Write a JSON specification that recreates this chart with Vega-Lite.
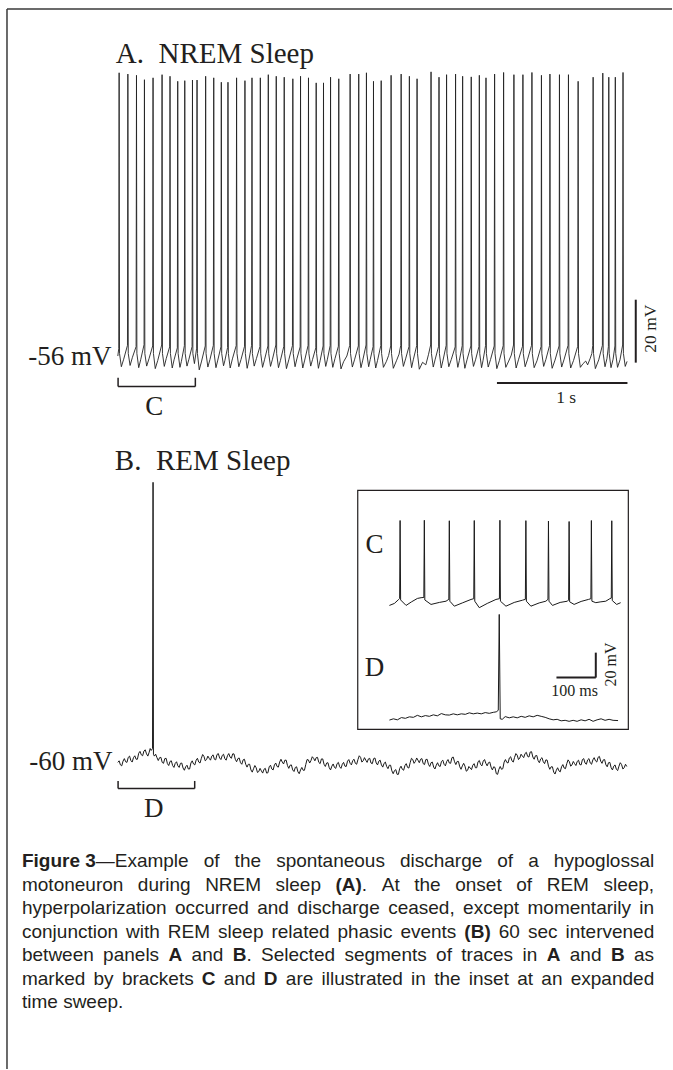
{
"$schema": "https://vega.github.io/schema/vega-lite/v6.json",
"width": 673, "height": 1070,
"autosize": {"type": "fit", "contains": "padding"},
"padding": 0,
"background": "white",
"config": {"view": {"stroke": null}},
"resolve": {"scale": {"x": "independent", "y": "independent"}},
"datasets": {
"A": [{"t":0,"v":-55.8},{"t":7,"v":-53.5},{"t":10,"v":34.2},{"t":13,"v":-55},{"t":27,"v":-59.2},{"t":45,"v":-56.8},
{"t":74,"v":-52.4},{"t":77,"v":33.8},{"t":80,"v":-55},{"t":94,"v":-58.8},{"t":112,"v":-56.2},
{"t":140,"v":-52.8},{"t":143,"v":33.4},{"t":146,"v":-55},{"t":160,"v":-59.5},{"t":175,"v":-57},
{"t":201,"v":-52.2},{"t":204,"v":32.0},{"t":207,"v":-55},{"t":221,"v":-59},{"t":240,"v":-56.5},
{"t":267,"v":-52.6},{"t":270,"v":32.6},{"t":273,"v":-55},{"t":287,"v":-59.8},{"t":306,"v":-57.2},
{"t":336,"v":-52.3},{"t":339,"v":33.6},{"t":342,"v":-55},{"t":356,"v":-59.1},{"t":371,"v":-56.6},
{"t":397,"v":-52.9},{"t":400,"v":33.1},{"t":403,"v":-55},{"t":417,"v":-59.6},{"t":431,"v":-57},
{"t":456,"v":-53.2},{"t":459,"v":31.5},{"t":462,"v":-55},{"t":476,"v":-59.4},{"t":487,"v":-57.5},
{"t":510,"v":-52.5},{"t":513,"v":31.7},{"t":516,"v":-55},{"t":530,"v":-59},{"t":545,"v":-56.8},
{"t":569,"v":-52.8},{"t":572,"v":31.9},{"t":575,"v":-55},{"t":587,"v":-58.2},
{"t":604,"v":-53.3},{"t":607,"v":31.9},{"t":610,"v":-55},{"t":624,"v":-60.2},{"t":642,"v":-57.4},
{"t":670,"v":-52.6},{"t":673,"v":33.1},{"t":676,"v":-55},{"t":690,"v":-59.3},{"t":706,"v":-56.9},
{"t":732,"v":-52.4},{"t":735,"v":32.6},{"t":738,"v":-55},{"t":752,"v":-59.5},{"t":766,"v":-57.1},
{"t":790,"v":-52.9},{"t":793,"v":31.2},{"t":796,"v":-55},{"t":810,"v":-58.9},{"t":820,"v":-57.3},
{"t":841,"v":-53.1},{"t":844,"v":31.2},{"t":847,"v":-55},{"t":861,"v":-59.6},{"t":878,"v":-56.7},
{"t":907,"v":-52.5},{"t":910,"v":32.6},{"t":913,"v":-55},{"t":927,"v":-59.2},{"t":944,"v":-56.9},
{"t":971,"v":-52.7},{"t":974,"v":31.7},{"t":977,"v":-55},{"t":991,"v":-59.7},{"t":1003,"v":-57.4},
{"t":1025,"v":-52.4},{"t":1028,"v":32.6},{"t":1031,"v":-55},{"t":1045,"v":-59},{"t":1062,"v":-56.6},
{"t":1089,"v":-52.8},{"t":1092,"v":32.6},{"t":1095,"v":-55},{"t":1109,"v":-59.4},{"t":1124,"v":-57},
{"t":1150,"v":-52.6},{"t":1153,"v":33.6},{"t":1156,"v":-55},{"t":1170,"v":-59.1},{"t":1185,"v":-56.8},
{"t":1211,"v":-52.3},{"t":1214,"v":33.1},{"t":1217,"v":-55},{"t":1231,"v":-59.5},{"t":1246,"v":-57.2},
{"t":1272,"v":-52.7},{"t":1275,"v":32.8},{"t":1278,"v":-55},{"t":1292,"v":-59.8},{"t":1310,"v":-57},
{"t":1338,"v":-52.5},{"t":1341,"v":32.3},{"t":1344,"v":-55},{"t":1358,"v":-59.2},{"t":1372,"v":-56.7},
{"t":1397,"v":-52.9},{"t":1400,"v":33.1},{"t":1403,"v":-55},{"t":1417,"v":-59.6},{"t":1432,"v":-57.1},
{"t":1458,"v":-52.4},{"t":1461,"v":32.6},{"t":1464,"v":-55},{"t":1478,"v":-59},{"t":1492,"v":-56.9},
{"t":1517,"v":-53.2},{"t":1520,"v":31.0},{"t":1523,"v":-55},{"t":1537,"v":-59.7},{"t":1550,"v":-57.3},
{"t":1573,"v":-52.6},{"t":1576,"v":31.0},{"t":1579,"v":-55},{"t":1593,"v":-59.1},{"t":1605,"v":-57},
{"t":1627,"v":-52.5},{"t":1630,"v":32.8},{"t":1633,"v":-55},{"t":1647,"v":-59.4},{"t":1664,"v":-56.6},
{"t":1690,"v":-52.7},{"t":1693,"v":32.3},{"t":1696,"v":-55},{"t":1710,"v":-59.9},{"t":1730,"v":-57.6},{"t":1755,"v":-55.8},
{"t":1777,"v":-52.4},{"t":1780,"v":33.8},{"t":1783,"v":-55},{"t":1797,"v":-59.3},{"t":1815,"v":-56.8},
{"t":1843,"v":-52.6},{"t":1846,"v":33.8},{"t":1849,"v":-55},{"t":1863,"v":-59.5},{"t":1877,"v":-57.1},
{"t":1902,"v":-52.3},{"t":1905,"v":34.2},{"t":1908,"v":-55},{"t":1922,"v":-59.2},{"t":1934,"v":-56.9},
{"t":1956,"v":-52.8},{"t":1959,"v":31.5},{"t":1962,"v":-55},{"t":1976,"v":-59.6},{"t":1990,"v":-57.2},
{"t":2015,"v":-52.5},{"t":2018,"v":31.7},{"t":2021,"v":-55},{"t":2035,"v":-59.4},{"t":2058,"v":-57.5},{"t":2075,"v":-55.6},
{"t":2091,"v":-52.6},{"t":2094,"v":33.4},{"t":2097,"v":-55},{"t":2111,"v":-59.7},{"t":2135,"v":-57.3},{"t":2155,"v":-55.2},
{"t":2168,"v":-52.4},{"t":2171,"v":33.8},{"t":2174,"v":-55},{"t":2188,"v":-59.1},{"t":2205,"v":-56.7},
{"t":2231,"v":-52.8},{"t":2234,"v":33.1},{"t":2237,"v":-55},{"t":2251,"v":-59.5},{"t":2264,"v":-57},
{"t":2290,"v":-52.5},{"t":2293,"v":32.3},{"t":2296,"v":-55},{"t":2310,"v":-60},{"t":2335,"v":-57.8},{"t":2360,"v":-58.6},{"t":2380,"v":-55.4},
{"t":2397,"v":-52.3},{"t":2400,"v":34.5},{"t":2403,"v":-55},{"t":2417,"v":-59.3},{"t":2432,"v":-56.8},
{"t":2458,"v":-52.7},{"t":2461,"v":32.8},{"t":2464,"v":-55},{"t":2478,"v":-59.6},{"t":2492,"v":-57.1},
{"t":2516,"v":-52.4},{"t":2519,"v":33.6},{"t":2522,"v":-55},{"t":2536,"v":-59.2},{"t":2555,"v":-56.9},
{"t":2585,"v":-52.9},{"t":2588,"v":33.8},{"t":2591,"v":-55},{"t":2605,"v":-59.4},{"t":2617,"v":-57.2},
{"t":2639,"v":-52.5},{"t":2642,"v":33.1},{"t":2645,"v":-55},{"t":2659,"v":-59.7},{"t":2677,"v":-56.8},
{"t":2705,"v":-52.6},{"t":2708,"v":32.9},{"t":2711,"v":-55},{"t":2725,"v":-59.1},{"t":2741,"v":-57},
{"t":2767,"v":-52.8},{"t":2770,"v":33.4},{"t":2773,"v":-55},{"t":2787,"v":-59.5},{"t":2798,"v":-57.3},
{"t":2818,"v":-52.4},{"t":2821,"v":32.6},{"t":2824,"v":-55},{"t":2838,"v":-59.3},{"t":2856,"v":-56.9},
{"t":2884,"v":-52.6},{"t":2887,"v":33.8},{"t":2890,"v":-55},{"t":2904,"v":-59.8},{"t":2924,"v":-57.2},
{"t":2953,"v":-52.5},{"t":2956,"v":34.3},{"t":2959,"v":-55},{"t":2973,"v":-59.4},{"t":2995,"v":-57.4},{"t":3015,"v":-55.5},
{"t":3032,"v":-52.3},{"t":3035,"v":33.6},{"t":3038,"v":-55},{"t":3052,"v":-59.6},{"t":3070,"v":-57},
{"t":3101,"v":-52.7},{"t":3104,"v":33.6},{"t":3107,"v":-55},{"t":3121,"v":-59.2},{"t":3140,"v":-56.8},
{"t":3170,"v":-52.4},{"t":3173,"v":34.3},{"t":3176,"v":-55},{"t":3190,"v":-59.5},{"t":3212,"v":-57.3},
{"t":3243,"v":-52.8},{"t":3246,"v":33.4},{"t":3249,"v":-55},{"t":3263,"v":-59.1},{"t":3280,"v":-56.9},
{"t":3308,"v":-52.5},{"t":3311,"v":33.8},{"t":3314,"v":-55},{"t":3328,"v":-59.7},{"t":3350,"v":-57.1},
{"t":3381,"v":-52.6},{"t":3384,"v":33.6},{"t":3387,"v":-55},{"t":3401,"v":-59.3},{"t":3420,"v":-56.8},
{"t":3450,"v":-52.4},{"t":3453,"v":33.6},{"t":3456,"v":-55},{"t":3470,"v":-59.6},{"t":3492,"v":-57.2},
{"t":3524,"v":-52.7},{"t":3527,"v":31.5},{"t":3530,"v":-55},{"t":3544,"v":-59.4},{"t":3565,"v":-58.2},{"t":3585,"v":-57.4},{"t":3600,"v":-58.6},{"t":3620,"v":-56.5},{"t":3632,"v":-55},
{"t":3639,"v":-52.5},{"t":3642,"v":32.8},{"t":3645,"v":-55},{"t":3659,"v":-59.8},{"t":3685,"v":-57},
{"t":3713,"v":-52.4},{"t":3716,"v":34.1},{"t":3719,"v":-55},{"t":3733,"v":-59.2},{"t":3748,"v":-56.6},
{"t":3759,"v":-52.8},{"t":3762,"v":32.8},{"t":3765,"v":-55},{"t":3779,"v":-59.5},{"t":3795,"v":-56.8},
{"t":3809,"v":-52.6},{"t":3812,"v":32.8},{"t":3815,"v":-55},{"t":3829,"v":-59.4},{"t":3848,"v":-57},
{"t":3868,"v":-52.3},{"t":3871,"v":34.3},{"t":3874,"v":-55},{"t":3888,"v":-59.1},{"t":3902,"v":-57.5}],
"B": [{"t":0,"v":-59.4},{"t":20,"v":-60.2},{"t":40,"v":-59.0},{"t":60,"v":-59.2},{"t":80,"v":-57.8},{"t":100,"v":-58.8},{"t":120,"v":-57.9},{"t":140,"v":-58.4},{"t":160,"v":-56.5},{"t":180,"v":-57.0},{"t":200,"v":-55.8},{"t":220,"v":-56.7},{"t":240,"v":-56.2},{"t":256,"v":-55.6},{"t":266,"v":-55.0},{"t":270,"v":29.6},{"t":273,"v":-56.8},
{"t":280,"v":-57.4},{"t":300,"v":-57.9},{"t":320,"v":-57.9},{"t":340,"v":-59.4},{"t":360,"v":-58.2},{"t":380,"v":-59.8},{"t":400,"v":-59.1},{"t":420,"v":-60.4},{"t":440,"v":-59.7},{"t":460,"v":-60.5},{"t":480,"v":-59.7},{"t":500,"v":-61.2},{"t":520,"v":-60.8},{"t":540,"v":-61.5},{"t":560,"v":-59.6},{"t":580,"v":-59.9},{"t":600,"v":-58.7},{"t":620,"v":-59.3},{"t":640,"v":-58.1},{"t":660,"v":-57.5},{"t":680,"v":-58.5},{"t":700,"v":-58.1},{"t":720,"v":-57.4},{"t":740,"v":-58.4},{"t":760,"v":-56.9},{"t":780,"v":-58.0},{"t":800,"v":-57.2},{"t":820,"v":-58.2},{"t":840,"v":-57.3},{"t":860,"v":-57.7},{"t":880,"v":-56.7},{"t":900,"v":-58.4},{"t":920,"v":-58.2},{"t":940,"v":-59.5},{"t":960,"v":-58.6},{"t":980,"v":-60.0},{"t":1000,"v":-60.0},{"t":1020,"v":-61.8},{"t":1040,"v":-61.4},{"t":1060,"v":-61.1},{"t":1080,"v":-62.3},{"t":1100,"v":-62.1},{"t":1120,"v":-61.6},{"t":1140,"v":-62.8},{"t":1160,"v":-60.8},{"t":1180,"v":-61.5},{"t":1200,"v":-60.2},{"t":1220,"v":-60.7},{"t":1240,"v":-59.3},{"t":1260,"v":-59.3},{"t":1280,"v":-58.7},{"t":1300,"v":-60.4},{"t":1320,"v":-60.3},{"t":1340,"v":-61.8},{"t":1360,"v":-61.0},{"t":1380,"v":-62.4},{"t":1400,"v":-61.8},{"t":1420,"v":-61.9},{"t":1440,"v":-60.1},{"t":1460,"v":-58.6},{"t":1480,"v":-58.8},{"t":1500,"v":-58.1},{"t":1520,"v":-57.9},{"t":1540,"v":-59.4},{"t":1560,"v":-58.3},{"t":1580,"v":-60.0},{"t":1600,"v":-59.6},{"t":1620,"v":-61.1},{"t":1640,"v":-60.6},{"t":1660,"v":-61.0},{"t":1680,"v":-59.8},{"t":1700,"v":-60.8},{"t":1720,"v":-60.0},{"t":1740,"v":-60.6},{"t":1760,"v":-59.0},{"t":1780,"v":-59.7},{"t":1800,"v":-58.8},{"t":1820,"v":-59.7},{"t":1840,"v":-58.5},{"t":1860,"v":-57.8},{"t":1880,"v":-58.9},{"t":1900,"v":-58.7},{"t":1920,"v":-58.3},{"t":1940,"v":-59.6},{"t":1960,"v":-58.2},{"t":1980,"v":-59.6},{"t":2000,"v":-59.0},{"t":2020,"v":-60.2},{"t":2040,"v":-59.7},{"t":2060,"v":-60.7},{"t":2080,"v":-60.3},{"t":2100,"v":-62.1},{"t":2120,"v":-62.0},{"t":2140,"v":-63.2},{"t":2160,"v":-61.3},{"t":2180,"v":-61.6},{"t":2200,"v":-60.4},{"t":2220,"v":-61.0},{"t":2240,"v":-59.5},{"t":2260,"v":-58.5},{"t":2280,"v":-59.1},{"t":2300,"v":-58.7},{"t":2320,"v":-58.4},{"t":2340,"v":-59.8},{"t":2360,"v":-58.5},{"t":2380,"v":-60.0},{"t":2400,"v":-59.5},{"t":2420,"v":-60.9},{"t":2440,"v":-60.3},{"t":2460,"v":-60.5},{"t":2480,"v":-59.1},{"t":2500,"v":-60.0},{"t":2520,"v":-59.1},{"t":2540,"v":-59.6},{"t":2560,"v":-57.9},{"t":2580,"v":-59.2},{"t":2600,"v":-59.1},{"t":2620,"v":-60.8},{"t":2640,"v":-60.5},{"t":2660,"v":-60.6},{"t":2680,"v":-61.9},{"t":2700,"v":-61.2},{"t":2720,"v":-60.3},{"t":2740,"v":-61.1},{"t":2760,"v":-59.2},{"t":2780,"v":-60.1},{"t":2800,"v":-59.0},{"t":2820,"v":-59.7},{"t":2840,"v":-59.5},{"t":2860,"v":-60.9},{"t":2880,"v":-60.8},{"t":2900,"v":-63.0},{"t":2920,"v":-61.6},{"t":2940,"v":-61.6},{"t":2960,"v":-59.3},{"t":2980,"v":-59.4},{"t":3000,"v":-58.0},{"t":3020,"v":-58.9},{"t":3040,"v":-57.8},{"t":3060,"v":-57.1},{"t":3080,"v":-58.0},{"t":3100,"v":-57.4},{"t":3120,"v":-56.6},{"t":3140,"v":-57.5},{"t":3160,"v":-56.1},{"t":3180,"v":-57.7},{"t":3200,"v":-57.3},{"t":3220,"v":-58.8},{"t":3240,"v":-58.3},{"t":3260,"v":-59.2},{"t":3280,"v":-58.6},{"t":3300,"v":-60.6},{"t":3320,"v":-60.8},{"t":3340,"v":-62.5},{"t":3360,"v":-61.9},{"t":3380,"v":-62.1},{"t":3400,"v":-60.8},{"t":3420,"v":-61.2},{"t":3440,"v":-59.8},{"t":3460,"v":-59.2},{"t":3480,"v":-60.2},{"t":3500,"v":-59.8},{"t":3520,"v":-59.1},{"t":3540,"v":-60.1},{"t":3560,"v":-58.5},{"t":3580,"v":-59.6},{"t":3600,"v":-58.6},{"t":3620,"v":-59.6},{"t":3640,"v":-58.6},{"t":3660,"v":-58.9},{"t":3680,"v":-57.8},{"t":3700,"v":-59.0},{"t":3720,"v":-58.6},{"t":3740,"v":-60.2},{"t":3760,"v":-59.5},{"t":3780,"v":-61.1},{"t":3800,"v":-60.6},{"t":3820,"v":-61.6},{"t":3840,"v":-60.6},{"t":3860,"v":-60.1},{"t":3880,"v":-61.1},{"t":3900,"v":-60.7},
{"t":10,"v":-58.9},{"t":30,"v":-60.5},{"t":50,"v":-58.2},{"t":70,"v":-59.4},{"t":90,"v":-57.4},{"t":110,"v":-59.3},{"t":130,"v":-57.3},{"t":150,"v":-58.4},{"t":170,"v":-55.9},{"t":190,"v":-57.3},{"t":210,"v":-55.4},{"t":230,"v":-57.4},{"t":248,"v":-55.0},
{"t":290,"v":-56.8},{"t":310,"v":-58.8},{"t":330,"v":-57.8},{"t":350,"v":-59.7},{"t":370,"v":-58.1},{"t":390,"v":-60.4},{"t":410,"v":-58.9},{"t":430,"v":-61.0},{"t":450,"v":-59.2},{"t":470,"v":-61.0},{"t":490,"v":-59.6},{"t":510,"v":-61.9},{"t":530,"v":-60.3},{"t":550,"v":-61.5},{"t":570,"v":-58.9},{"t":590,"v":-60.2},{"t":610,"v":-58.1},{"t":630,"v":-59.6},{"t":650,"v":-56.9},{"t":670,"v":-58.9},{"t":690,"v":-57.4},{"t":710,"v":-58.7},{"t":730,"v":-57.0},{"t":750,"v":-58.6},{"t":770,"v":-56.6},{"t":790,"v":-58.5},{"t":810,"v":-56.8},{"t":830,"v":-58.7},{"t":850,"v":-56.6},{"t":870,"v":-58.1},{"t":890,"v":-56.7},{"t":910,"v":-59.2},{"t":930,"v":-58.0},{"t":950,"v":-60.0},{"t":970,"v":-58.4},{"t":990,"v":-60.9},
{"t":1010,"v":-60.0},{"t":1030,"v":-62.5},{"t":1050,"v":-60.4},{"t":1070,"v":-62.6},{"t":1090,"v":-61.3},{"t":1110,"v":-62.8},{"t":1130,"v":-61.3},{"t":1150,"v":-62.7},{"t":1170,"v":-60.3},{"t":1190,"v":-61.8},{"t":1210,"v":-59.6},{"t":1230,"v":-60.9},{"t":1250,"v":-58.4},{"t":1270,"v":-59.9},{"t":1290,"v":-58.7},{"t":1310,"v":-61.3},{"t":1330,"v":-60.2},{"t":1350,"v":-62.3},{"t":1370,"v":-60.8},{"t":1390,"v":-63.0},{"t":1410,"v":-61.0},{"t":1430,"v":-61.9},{"t":1450,"v":-58.5},{"t":1470,"v":-59.6},{"t":1490,"v":-57.6},{"t":1510,"v":-58.9},{"t":1530,"v":-57.8},{"t":1550,"v":-59.8},{"t":1570,"v":-58.3},{"t":1590,"v":-60.7},{"t":1610,"v":-59.5},{"t":1630,"v":-61.8},{"t":1650,"v":-59.9},{"t":1670,"v":-61.3},{"t":1690,"v":-59.4},{"t":1710,"v":-61.3},{"t":1730,"v":-59.4},{"t":1750,"v":-60.7},{"t":1770,"v":-58.5},{"t":1790,"v":-60.2},{"t":1810,"v":-58.4},{"t":1830,"v":-60.0},{"t":1850,"v":-57.3},{"t":1870,"v":-59.3},{"t":1890,"v":-57.9},{"t":1910,"v":-59.4},{"t":1930,"v":-58.1},{"t":1950,"v":-59.8},{"t":1970,"v":-58.0},{"t":1990,"v":-60.2},
{"t":2010,"v":-58.7},{"t":2030,"v":-60.9},{"t":2050,"v":-59.3},{"t":2070,"v":-61.4},{"t":2090,"v":-60.3},{"t":2110,"v":-63.0},{"t":2130,"v":-61.7},{"t":2150,"v":-63.2},{"t":2170,"v":-60.6},{"t":2190,"v":-61.9},{"t":2210,"v":-59.8},{"t":2230,"v":-61.2},{"t":2250,"v":-58.1},{"t":2270,"v":-59.7},{"t":2290,"v":-58.0},{"t":2310,"v":-59.5},{"t":2330,"v":-58.2},{"t":2350,"v":-60.1},{"t":2370,"v":-58.4},{"t":2390,"v":-60.7},{"t":2410,"v":-59.3},{"t":2430,"v":-61.5},{"t":2450,"v":-59.5},{"t":2470,"v":-60.7},{"t":2490,"v":-58.7},{"t":2510,"v":-60.5},{"t":2530,"v":-58.5},{"t":2550,"v":-59.7},{"t":2570,"v":-57.7},{"t":2590,"v":-60.1},{"t":2610,"v":-59.1},{"t":2630,"v":-61.6},{"t":2650,"v":-59.7},{"t":2670,"v":-62.2},{"t":2690,"v":-60.7},{"t":2710,"v":-61.7},{"t":2730,"v":-59.8},{"t":2750,"v":-61.1},{"t":2770,"v":-58.8},{"t":2790,"v":-60.5},{"t":2810,"v":-58.5},{"t":2830,"v":-60.5},{"t":2850,"v":-59.3},{"t":2870,"v":-61.8},{"t":2890,"v":-61.0},{"t":2910,"v":-63.2},{"t":2930,"v":-60.7},{"t":2950,"v":-61.4},{"t":2970,"v":-58.5},{"t":2990,"v":-59.6},
{"t":3010,"v":-57.6},{"t":3030,"v":-59.3},{"t":3050,"v":-56.6},{"t":3070,"v":-58.5},{"t":3090,"v":-56.8},{"t":3110,"v":-57.9},{"t":3130,"v":-56.2},{"t":3150,"v":-57.7},{"t":3170,"v":-56.0},{"t":3190,"v":-58.4},{"t":3210,"v":-57.2},{"t":3230,"v":-59.5},{"t":3250,"v":-57.9},{"t":3270,"v":-59.8},{"t":3290,"v":-58.7},{"t":3310,"v":-61.6},{"t":3330,"v":-60.8},{"t":3350,"v":-63.1},{"t":3370,"v":-61.1},{"t":3390,"v":-62.4},{"t":3410,"v":-60.1},{"t":3430,"v":-61.4},{"t":3450,"v":-58.6},{"t":3470,"v":-60.6},{"t":3490,"v":-59.1},{"t":3510,"v":-60.4},{"t":3530,"v":-58.7},{"t":3550,"v":-60.2},{"t":3570,"v":-58.2},{"t":3590,"v":-60.0},{"t":3610,"v":-58.2},{"t":3630,"v":-60.0},{"t":3650,"v":-57.9},{"t":3670,"v":-59.3},{"t":3690,"v":-57.5},{"t":3710,"v":-59.7},{"t":3730,"v":-58.5},{"t":3750,"v":-60.8},{"t":3770,"v":-59.4},{"t":3790,"v":-61.8},{"t":3810,"v":-60.2},{"t":3830,"v":-62.0},{"t":3850,"v":-59.5},{"t":3870,"v":-61.5},{"t":3890,"v":-60.0}],
"C": [{"t":0,"v":-58.4},{"t":12.7,"v":-56.8},{"t":23.6,"v":-53.6},{"t":26,"v":-52.8},{"t":27.2,"v":9.6},{"t":28.5,"v":-54},{"t":42.4,"v":-58.4},{"t":55.8,"v":-55.6},{"t":71.1,"v":-52.8},{"t":80.5,"v":-52.2},{"t":87.5,"v":-52},{"t":88.8,"v":9.8},{"t":90,"v":-54},{"t":105.8,"v":-57.6},{"t":126.9,"v":-56},{"t":143.9,"v":-55},{"t":151,"v":-53.5},{"t":152.3,"v":9.4},{"t":153.6,"v":-55},{"t":165,"v":-59},{"t":185.3,"v":-56.4},{"t":207.4,"v":-53.6},{"t":214.4,"v":-53},{"t":215.7,"v":9.6},{"t":217,"v":-55},{"t":228.4,"v":-60.2},{"t":248.7,"v":-56.8},{"t":270.8,"v":-53.6},{"t":279.6,"v":-53},{"t":280.9,"v":9.8},{"t":282.2,"v":-55},{"t":296.2,"v":-59},{"t":317.3,"v":-56},{"t":338.3,"v":-54.2},{"t":345.6,"v":-53.5},{"t":346.9,"v":9.5},{"t":348.2,"v":-55},{"t":359.6,"v":-59},{"t":380.7,"v":-56.4},{"t":397.7,"v":-55},{"t":403,"v":-53.5},{"t":404.3,"v":9.2},{"t":405.6,"v":-55},{"t":414.5,"v":-58.4},{"t":434,"v":-56},{"t":452.5,"v":-55},{"t":455.5,"v":-54},{"t":456.8,"v":8.8},{"t":458.1,"v":-55.5},{"t":469.5,"v":-57.6},{"t":487.3,"v":-55.2},{"t":505.8,"v":-53.6},{"t":512.1,"v":-53},{"t":513.4,"v":9.6},{"t":514.7,"v":-55},{"t":524.6,"v":-56.2},{"t":535.5,"v":-55.6},{"t":550,"v":-55},{"t":560.2,"v":-53},{"t":564,"v":-52.5},{"t":565.2,"v":9.4},{"t":566.5,"v":-54.5},{"t":577.7,"v":-57.6},{"t":587.8,"v":-56.2}],
"D": [{"t":0,"v":-61.4},{"t":10.2,"v":-60.4},{"t":20.3,"v":-61.2},{"t":30.5,"v":-59.4},{"t":40.6,"v":-60},{"t":50.8,"v":-58.8},{"t":60.9,"v":-59.2},{"t":71.1,"v":-57.6},{"t":81.2,"v":-58.8},{"t":91.4,"v":-57.8},{"t":101.5,"v":-58.4},{"t":111.7,"v":-57.2},{"t":121.8,"v":-58},{"t":132,"v":-56.2},{"t":142.1,"v":-57.2},{"t":152.3,"v":-57.4},{"t":162.4,"v":-56.4},{"t":172.6,"v":-57.2},{"t":182.7,"v":-56.4},{"t":192.9,"v":-56.8},{"t":203,"v":-55.6},{"t":213.2,"v":-56.4},{"t":223.3,"v":-55.8},{"t":233.5,"v":-56.4},{"t":243.6,"v":-55.4},{"t":253.8,"v":-56},{"t":264,"v":-55.2},{"t":271.6,"v":-54.8},{"t":276.7,"v":-53.6},{"t":279.2,"v":23.2},{"t":281.7,"v":-60.4},{"t":286.8,"v":-60.8},{"t":294.4,"v":-58.6},{"t":304.6,"v":-59.6},{"t":314.7,"v":-58.8},{"t":324.9,"v":-59.6},{"t":335,"v":-58.4},{"t":345.2,"v":-59.2},{"t":355.3,"v":-58},{"t":365.5,"v":-58.8},{"t":375.6,"v":-57.6},{"t":385.8,"v":-58.4},{"t":395.9,"v":-59.2},{"t":406.1,"v":-60.4},{"t":416.2,"v":-61.2},{"t":426.4,"v":-60.8},{"t":436.5,"v":-62},{"t":446.7,"v":-61.6},{"t":456.8,"v":-62.4},{"t":467,"v":-61.6},{"t":477.1,"v":-62.4},{"t":487.3,"v":-61.2},{"t":497.4,"v":-62},{"t":507.6,"v":-60.8},{"t":517.8,"v":-62.4},{"t":527.9,"v":-61.2},{"t":538.1,"v":-60.4},{"t":548.2,"v":-61.6},{"t":558.4,"v":-60.8},{"t":568.5,"v":-61.6},{"t":581.2,"v":-61.8}],
"capR": [
{"c":11.67,"l":1,"s":"—Example"},{"c":28.75,"l":1,"s":"of"},{"c":33.64,"l":1,"s":"the"},{"c":40.21,"l":1,"s":"spontaneous"},{"c":59.79,"l":1,"s":"discharge"},{"c":75.19,"l":1,"s":"of"},{"c":80.09,"l":1,"s":"a"},{"c":84.15,"l":1,"s":"hypoglossal"},
{"c":0,"l":2,"s":"motoneuron"},{"c":18.33,"l":2,"s":"during"},{"c":28.98,"l":2,"s":"NREM"},{"c":40.12,"l":2,"s":"sleep"},{"c":53.77,"l":2,"s":"."},{"c":56.92,"l":2,"s":"At"},{"c":62.06,"l":2,"s":"the"},{"c":68.54,"l":2,"s":"onset"},{"c":78.2,"l":2,"s":"of"},{"c":83.01,"l":2,"s":"REM"},{"c":91.99,"l":2,"s":"sleep,"},
{"c":0,"l":3,"s":"hyperpolarization"},{"c":24.2,"l":3,"s":"occurred"},{"c":37.22,"l":3,"s":"and"},{"c":43.57,"l":3,"s":"discharge"},{"c":57.93,"l":3,"s":"ceased,"},{"c":69.79,"l":3,"s":"except"},{"c":79.98,"l":3,"s":"momentarily"},{"c":97.67,"l":3,"s":"in"},
{"c":0,"l":4,"s":"conjunction"},{"c":16.46,"l":4,"s":"with"},{"c":23.07,"l":4,"s":"REM"},{"c":31.02,"l":4,"s":"sleep"},{"c":39.47,"l":4,"s":"related"},{"c":49.92,"l":4,"s":"phasic"},{"c":59.87,"l":4,"s":"events"},{"c":75.43,"l":4,"s":"60"},{"c":80.05,"l":4,"s":"sec"},{"c":85.99,"l":4,"s":"intervened"},
{"c":0,"l":5,"s":"between"},{"c":12.84,"l":5,"s":"panels"},{"c":26.84,"l":5,"s":"and"},{"c":35.51,"l":5,"s":"."},{"c":37.83,"l":5,"s":"Selected"},{"c":51.01,"l":5,"s":"segments"},{"c":65.52,"l":5,"s":"of"},{"c":69.51,"l":5,"s":"traces"},{"c":79.18,"l":5,"s":"in"},{"c":86.67,"l":5,"s":"and"},{"c":96.83,"l":5,"s":"as"},
{"c":0,"l":6,"s":"marked"},{"c":11.32,"l":6,"s":"by"},{"c":15.81,"l":6,"s":"brackets"},{"c":31.94,"l":6,"s":"and"},{"c":41.75,"l":6,"s":"are"},{"c":47.4,"l":6,"s":"illustrated"},{"c":61.56,"l":6,"s":"in"},{"c":65.21,"l":6,"s":"the"},{"c":70.69,"l":6,"s":"inset"},{"c":78.35,"l":6,"s":"at"},{"c":82.17,"l":6,"s":"an"},{"c":86.82,"l":6,"s":"expanded"},
{"c":0,"l":7,"s":"time sweep."}],
"capB": [{"c":0,"l":1,"s":"Figure 3"},{"c":49.61,"l":2,"s":"(A)"},{"c":69.99,"l":4,"s":"(B)"},{"c":23.18,"l":5,"s":"A"},{"c":33.34,"l":5,"s":"B"},{"c":83.01,"l":5,"s":"A"},{"c":93.17,"l":5,"s":"B"},{"c":28.46,"l":6,"s":"C"},{"c":38.27,"l":6,"s":"D"}]
},
"layer": [
{"data": {"values": [{"c":-2.369,"c2":102.84,"l":-35.297,"l2":-35.297},{"c":-2.369,"c2":-2.369,"l":-35.297,"l2":9.851}]},
 "mark": {"type":"rule","color":"#3a3a3a","strokeWidth":1.5},
 "encoding": {"x":{"field":"c","type":"quantitative","scale":{"domain":[-3.475,102.84],"nice":false,"zero":false},"axis":null},"x2":{"field":"c2"},
  "y":{"field":"l","type":"quantitative","scale":{"domain":[-35.68,9.851],"nice":false,"zero":false,"reverse":true},"axis":null},"y2":{"field":"l2"}}},
{"data": {"name":"A"},
 "mark": {"type":"line","color":"#222222","strokeWidth":0.9,"strokeJoin":"round"},
 "encoding": {"x":{"field":"t","type":"quantitative","scale":{"domain":[-902.8,4246.3],"nice":false,"zero":false},"axis":null},
  "y":{"field":"v","type":"quantitative","scale":{"domain":[-282.35,57.33],"nice":false,"zero":false},"axis":null}}},
{"data": {"values": [{"t":-15.3,"v":37.33,"s":"A.\u00a0 NREM Sleep"}]},
 "mark": {"type":"text","align":"left","baseline":"alphabetic","font":"Liberation Serif","fontSize":29,"color":"#231f20"},
 "encoding": {"x":{"field":"t","type":"quantitative","scale":{"domain":[-902.8,4246.3],"nice":false,"zero":false},"axis":null},
  "y":{"field":"v","type":"quantitative","scale":{"domain":[-282.35,57.33],"nice":false,"zero":false},"axis":null},"text":{"field":"s"}}},
{"data": {"values": [{"t":-367.2,"v":-56,"s":"-56 mV"},{"t":279.3,"v":-71.87,"s":"C"}]},
 "mark": {"type":"text","align":"center","baseline":"middle","font":"Liberation Serif","fontSize":27,"color":"#231f20"},
 "encoding": {"x":{"field":"t","type":"quantitative","scale":{"domain":[-902.8,4246.3],"nice":false,"zero":false},"axis":null},
  "y":{"field":"v","type":"quantitative","scale":{"domain":[-282.35,57.33],"nice":false,"zero":false},"axis":null},"text":{"field":"s"}}},
{"data": {"values": [{"t":3435.3,"v":-69.0,"s":"1 s"}]},
 "mark": {"type":"text","align":"center","baseline":"middle","font":"Liberation Serif","fontSize":17.5,"color":"#231f20"},
 "encoding": {"x":{"field":"t","type":"quantitative","scale":{"domain":[-902.8,4246.3],"nice":false,"zero":false},"axis":null},
  "y":{"field":"v","type":"quantitative","scale":{"domain":[-282.35,57.33],"nice":false,"zero":false},"axis":null},"text":{"field":"s"}}},
{"data": {"values": [{"t":4085.6,"v":-47.1,"s":"20 mV"}]},
 "mark": {"type":"text","align":"center","baseline":"middle","angle":270,"font":"Liberation Serif","fontSize":17.5,"color":"#231f20"},
 "encoding": {"x":{"field":"t","type":"quantitative","scale":{"domain":[-902.8,4246.3],"nice":false,"zero":false},"axis":null},
  "y":{"field":"v","type":"quantitative","scale":{"domain":[-282.35,57.33],"nice":false,"zero":false},"axis":null},"text":{"field":"s"}}},
{"data": {"values": [{"t":2,"t2":594,"v":-65.5,"v2":-65.5},{"t":2,"t2":2,"v":-62.7,"v2":-65.5},{"t":594,"t2":594,"v":-62.7,"v2":-65.5}]},
 "mark": {"type":"rule","color":"#231f20","strokeWidth":1.5},
 "encoding": {"x":{"field":"t","type":"quantitative","scale":{"domain":[-902.8,4246.3],"nice":false,"zero":false},"axis":null},"x2":{"field":"t2"},
  "y":{"field":"v","type":"quantitative","scale":{"domain":[-282.35,57.33],"nice":false,"zero":false},"axis":null},"y2":{"field":"v2"}}},
{"data": {"values": [{"t":2905,"t2":3905,"v":-64.35,"v2":-64.35},{"t":3968.6,"t2":3968.6,"v":-57.9,"v2":-37.9}]},
 "mark": {"type":"rule","color":"#231f20","strokeWidth":2},
 "encoding": {"x":{"field":"t","type":"quantitative","scale":{"domain":[-902.8,4246.3],"nice":false,"zero":false},"axis":null},"x2":{"field":"t2"},
  "y":{"field":"v","type":"quantitative","scale":{"domain":[-282.35,57.33],"nice":false,"zero":false},"axis":null},"y2":{"field":"v2"}}},
{"data": {"name":"B"},
 "mark": {"type":"line","color":"#1a1a1a","strokeWidth":1,"strokeJoin":"round"},
 "encoding": {"x":{"field":"t","type":"quantitative","scale":{"domain":[-902.8,4246.3],"nice":false,"zero":false},"axis":null},
  "y":{"field":"v","type":"quantitative","scale":{"domain":[-156.83,182.86],"nice":false,"zero":false},"axis":null}}},
{"data": {"values": [{"t":-23,"v":33.65,"s":"B.\u00a0 REM Sleep"}]},
 "mark": {"type":"text","align":"left","baseline":"alphabetic","font":"Liberation Serif","fontSize":29,"color":"#231f20"},
 "encoding": {"x":{"field":"t","type":"quantitative","scale":{"domain":[-902.8,4246.3],"nice":false,"zero":false},"axis":null},
  "y":{"field":"v","type":"quantitative","scale":{"domain":[-156.83,182.86],"nice":false,"zero":false},"axis":null},"text":{"field":"s"}}},
{"data": {"values": [{"t":-359.6,"v":-59.37,"s":"-60 mV"},{"t":275.4,"v":-74.29,"s":"D"}]},
 "mark": {"type":"text","align":"center","baseline":"middle","font":"Liberation Serif","fontSize":27,"color":"#231f20"},
 "encoding": {"x":{"field":"t","type":"quantitative","scale":{"domain":[-902.8,4246.3],"nice":false,"zero":false},"axis":null},
  "y":{"field":"v","type":"quantitative","scale":{"domain":[-156.83,182.86],"nice":false,"zero":false},"axis":null},"text":{"field":"s"}}},
{"data": {"values": [{"t":2,"t2":589,"v":-67.71,"v2":-67.71},{"t":2,"t2":2,"v":-65.3,"v2":-67.71},{"t":589,"t2":589,"v":-65.3,"v2":-67.71}]},
 "mark": {"type":"rule","color":"#231f20","strokeWidth":1.5},
 "encoding": {"x":{"field":"t","type":"quantitative","scale":{"domain":[-902.8,4246.3],"nice":false,"zero":false},"axis":null},"x2":{"field":"t2"},
  "y":{"field":"v","type":"quantitative","scale":{"domain":[-156.83,182.86],"nice":false,"zero":false},"axis":null},"y2":{"field":"v2"}}},
{"data": {"values": [{"t":-80.5,"t2":607.3,"v":33.8,"v2":-157.6}]},
 "mark": {"type":"rect","fill":"white","stroke":"#231f20","strokeWidth":1.2},
 "encoding": {"x":{"field":"t","type":"quantitative","scale":{"domain":[-989.8,718.3],"nice":false,"zero":false},"axis":null},"x2":{"field":"t2"},
  "y":{"field":"v","type":"quantitative","scale":{"domain":[-429.6,426.4],"nice":false,"zero":false},"axis":null},"y2":{"field":"v2"}}},
{"data": {"name":"C"},
 "mark": {"type":"line","color":"#1a1a1a","strokeWidth":1,"strokeJoin":"round"},
 "encoding": {"x":{"field":"t","type":"quantitative","scale":{"domain":[-989.8,718.3],"nice":false,"zero":false},"axis":null},
  "y":{"field":"v","type":"quantitative","scale":{"domain":[-429.6,426.4],"nice":false,"zero":false},"axis":null}}},
{"data": {"values": [{"t":-38.1,"v":-10.4,"s":"C"}]},
 "mark": {"type":"text","align":"center","baseline":"middle","font":"Liberation Serif","fontSize":27,"color":"#231f20"},
 "encoding": {"x":{"field":"t","type":"quantitative","scale":{"domain":[-989.8,718.3],"nice":false,"zero":false},"axis":null},
  "y":{"field":"v","type":"quantitative","scale":{"domain":[-429.6,426.4],"nice":false,"zero":false},"axis":null},"text":{"field":"s"}}},
{"data": {"name":"D"},
 "mark": {"type":"line","color":"#1a1a1a","strokeWidth":1,"strokeJoin":"round"},
 "encoding": {"x":{"field":"t","type":"quantitative","scale":{"domain":[-989.8,718.3],"nice":false,"zero":false},"axis":null},
  "y":{"field":"v","type":"quantitative","scale":{"domain":[-340.8,515.2],"nice":false,"zero":false},"axis":null}}},
{"data": {"values": [{"t":-38.1,"v":-20,"s":"D"}]},
 "mark": {"type":"text","align":"center","baseline":"middle","font":"Liberation Serif","fontSize":27,"color":"#231f20"},
 "encoding": {"x":{"field":"t","type":"quantitative","scale":{"domain":[-989.8,718.3],"nice":false,"zero":false},"axis":null},
  "y":{"field":"v","type":"quantitative","scale":{"domain":[-340.8,515.2],"nice":false,"zero":false},"axis":null},"text":{"field":"s"}}},
{"data": {"values": [{"t":470.8,"v":-38.4,"s":"100 ms"}]},
 "mark": {"type":"text","align":"center","baseline":"middle","font":"Liberation Serif","fontSize":16,"color":"#231f20"},
 "encoding": {"x":{"field":"t","type":"quantitative","scale":{"domain":[-989.8,718.3],"nice":false,"zero":false},"axis":null},
  "y":{"field":"v","type":"quantitative","scale":{"domain":[-340.8,515.2],"nice":false,"zero":false},"axis":null},"text":{"field":"s"}}},
{"data": {"values": [{"t":563.4,"v":-16.8,"s":"20 mV"}]},
 "mark": {"type":"text","align":"center","baseline":"middle","angle":270,"font":"Liberation Serif","fontSize":16,"color":"#231f20"},
 "encoding": {"x":{"field":"t","type":"quantitative","scale":{"domain":[-989.8,718.3],"nice":false,"zero":false},"axis":null},
  "y":{"field":"v","type":"quantitative","scale":{"domain":[-340.8,515.2],"nice":false,"zero":false},"axis":null},"text":{"field":"s"}}},
{"data": {"values": [{"t":424.6,"t2":524.6,"v":-27.4,"v2":-27.4},{"t":524.6,"t2":524.6,"v":-27.4,"v2":-7.4}]},
 "mark": {"type":"rule","color":"#231f20","strokeWidth":2},
 "encoding": {"x":{"field":"t","type":"quantitative","scale":{"domain":[-989.8,718.3],"nice":false,"zero":false},"axis":null},"x2":{"field":"t2"},
  "y":{"field":"v","type":"quantitative","scale":{"domain":[-340.8,515.2],"nice":false,"zero":false},"axis":null},"y2":{"field":"v2"}}},
{"data": {"name":"capR"},
 "mark": {"type":"text","align":"left","baseline":"middle","font":"Liberation Sans","fontSize":19,"color":"#231f20"},
 "encoding": {"x":{"field":"c","type":"quantitative","scale":{"domain":[-3.475,102.84],"nice":false,"zero":false},"axis":null},
  "y":{"field":"l","type":"quantitative","scale":{"domain":[-35.68,9.851],"nice":false,"zero":false,"reverse":true},"axis":null},"text":{"field":"s"}}},
{"data": {"name":"capB"},
 "mark": {"type":"text","align":"left","baseline":"middle","font":"Liberation Sans","fontSize":19,"fontWeight":"bold","color":"#231f20"},
 "encoding": {"x":{"field":"c","type":"quantitative","scale":{"domain":[-3.475,102.84],"nice":false,"zero":false},"axis":null},
  "y":{"field":"l","type":"quantitative","scale":{"domain":[-35.68,9.851],"nice":false,"zero":false,"reverse":true},"axis":null},"text":{"field":"s"}}}
]
}
